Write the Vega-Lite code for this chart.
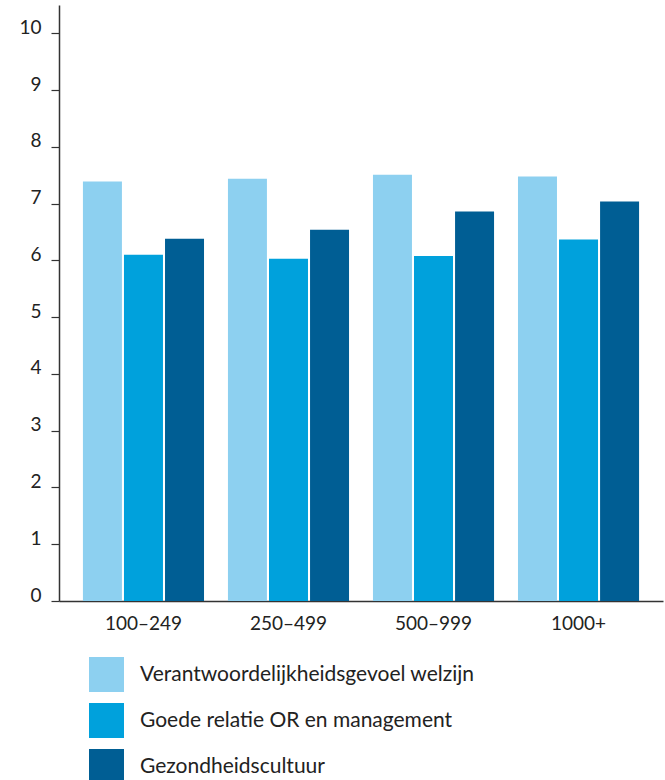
{
  "$schema": "https://vega.github.io/schema/vega-lite/v6.json",
  "autosize": {"type": "none"},
  "width": 604,
  "height": 596,
  "padding": {"left": 59, "top": 5, "right": 2, "bottom": 179},
  "background": "white",
  "config": {
    "view": {"stroke": null},
    "font": "Lato",
    "axis": {"labelFont": "Lato", "labelColor": "#222222", "domainColor": "#333333", "tickColor": "#333333"},
    "legend": {"labelFont": "Lato", "labelColor": "#222222"}
  },
  "data": {
    "values": [
      {"grootte": "100–249", "reeks": "Verantwoordelijkheidsgevoel welzijn", "waarde": 7.39},
      {"grootte": "100–249", "reeks": "Goede relatie OR en management", "waarde": 6.10},
      {"grootte": "100–249", "reeks": "Gezondheidscultuur", "waarde": 6.38},
      {"grootte": "250–499", "reeks": "Verantwoordelijkheidsgevoel welzijn", "waarde": 7.44},
      {"grootte": "250–499", "reeks": "Goede relatie OR en management", "waarde": 6.03},
      {"grootte": "250–499", "reeks": "Gezondheidscultuur", "waarde": 6.54},
      {"grootte": "500–999", "reeks": "Verantwoordelijkheidsgevoel welzijn", "waarde": 7.51},
      {"grootte": "500–999", "reeks": "Goede relatie OR en management", "waarde": 6.08},
      {"grootte": "500–999", "reeks": "Gezondheidscultuur", "waarde": 6.86},
      {"grootte": "1000+", "reeks": "Verantwoordelijkheidsgevoel welzijn", "waarde": 7.48},
      {"grootte": "1000+", "reeks": "Goede relatie OR en management", "waarde": 6.37},
      {"grootte": "1000+", "reeks": "Gezondheidscultuur", "waarde": 7.04}
    ]
  },
  "mark": {"type": "bar"},
  "encoding": {
    "x": {
      "field": "grootte",
      "type": "nominal",
      "sort": ["100–249", "250–499", "500–999", "1000+"],
      "scale": {"paddingInner": 0.165, "paddingOuter": 0.165},
      "axis": {"title": null, "labelAngle": 0, "ticks": false, "labelFontSize": 19, "labelPadding": 13, "domainWidth": 1.5}
    },
    "xOffset": {
      "field": "reeks",
      "type": "nominal",
      "sort": ["Verantwoordelijkheidsgevoel welzijn", "Goede relatie OR en management", "Gezondheidscultuur"],
      "scale": {"paddingInner": 0.05}
    },
    "y": {
      "field": "waarde",
      "type": "quantitative",
      "scale": {"domain": [0, 10.5], "nice": false},
      "axis": {"title": null, "values": [0,1,2,3,4,5,6,7,8,9,10], "grid": false, "tickSize": 8, "labelFontSize": 19, "labelPadding": 10, "labelBaseline": "alphabetic", "domainWidth": 1.5, "tickWidth": 1.2}
    },
    "color": {
      "field": "reeks",
      "type": "nominal",
      "sort": ["Verantwoordelijkheidsgevoel welzijn", "Goede relatie OR en management", "Gezondheidscultuur"],
      "scale": {"range": ["#8DD0F0", "#00A1DC", "#005E94"]},
      "legend": {
        "title": null,
        "orient": "none",
        "legendX": 30,
        "legendY": 652,
        "direction": "vertical",
        "symbolType": "square",
        "symbolSize": 1225,
        "symbolStrokeWidth": 0,
        "symbolOpacity": 1,
        "labelFontSize": 21,
        "labelOffset": 16,
        "rowPadding": 11,
        "labelLimit": 500
      }
    }
  }
}
